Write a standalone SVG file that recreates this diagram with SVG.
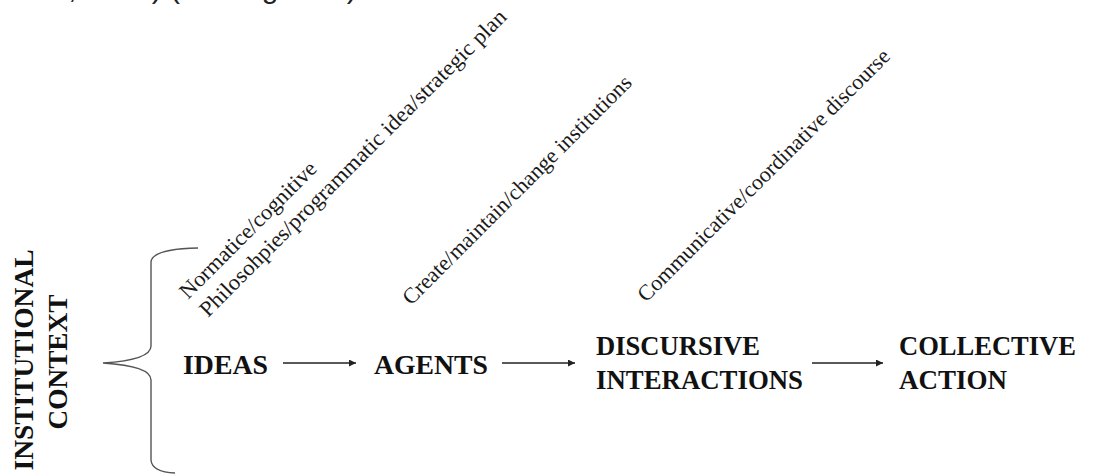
<svg xmlns="http://www.w3.org/2000/svg" width="1104" height="474" viewBox="0 0 1104 474">
<defs>
<style>
.node{font-family:"Liberation Serif","Times New Roman","DejaVu Serif",serif;font-weight:bold;font-size:27px;fill:#111}
.lbl{font-family:"Liberation Serif","Times New Roman","DejaVu Serif",serif;font-size:22px;fill:#1a1a1a}
.top{font-family:"Liberation Sans",Arial,sans-serif;font-size:30px;fill:#222}
.conn{stroke:#222;stroke-width:1.4;fill:none}
.brace{stroke:#555;stroke-width:1.4;fill:none}
</style>
<marker id="ah" viewBox="0 0 10 10" refX="10" refY="5" markerWidth="8" markerHeight="7" markerUnits="userSpaceOnUse" orient="auto">
<path d="M0,0 L10,5 L0,10 Z" fill="#222"/>
</marker>
</defs>
<rect width="1104" height="474" fill="#fff"/>
<text class="top" x="-40" y="-2">Schmidt, 2008) (see Figure 1)</text>

<g id="context">
<text class="node" text-anchor="middle" textLength="221" lengthAdjust="spacingAndGlyphs" transform="translate(33,360) rotate(-90)">INSTITUTIONAL</text>
<text class="node" text-anchor="middle" textLength="135" lengthAdjust="spacingAndGlyphs" transform="translate(67,362) rotate(-90)">CONTEXT</text>
<path class="brace" d="M198,248 Q152,249 151,262 L151,346 Q151,360 103,363 Q151,366 151,380 L151,460 Q152,472 175,473"/>
</g>

<g id="ideas"><text class="node" x="183" y="374" textLength="85" lengthAdjust="spacingAndGlyphs">IDEAS</text></g>
<g id="agents"><text class="node" x="374" y="374" textLength="114" lengthAdjust="spacingAndGlyphs">AGENTS</text></g>
<g id="discursive"><text class="node" x="596" y="355" textLength="164" lengthAdjust="spacingAndGlyphs">DISCURSIVE</text><text class="node" x="596" y="389" textLength="207" lengthAdjust="spacingAndGlyphs">INTERACTIONS</text></g>
<g id="collective"><text class="node" x="899" y="355" textLength="177" lengthAdjust="spacingAndGlyphs">COLLECTIVE</text><text class="node" x="899" y="389" textLength="108" lengthAdjust="spacingAndGlyphs">ACTION</text></g>

<g id="labels">
<text class="lbl" transform="translate(188,300) rotate(-45)" textLength="184" lengthAdjust="spacingAndGlyphs">Normatice/cognitive</text>
<text class="lbl" transform="translate(208,318) rotate(-45)" textLength="424" lengthAdjust="spacingAndGlyphs">Philosohpies/programmatic  idea/strategic  plan</text>
<text class="lbl" transform="translate(411,306) rotate(-45)" textLength="314" lengthAdjust="spacingAndGlyphs">Create/maintain/change institutions</text>
<text class="lbl" transform="translate(646,303) rotate(-45)" textLength="347" lengthAdjust="spacingAndGlyphs">Communicative/coordinative discourse</text>
</g>

<g id="connectors">
<line class="conn" x1="283" y1="363" x2="356" y2="363" marker-end="url(#ah)"/>
<line class="conn" x1="502" y1="363" x2="575" y2="363" marker-end="url(#ah)"/>
<line class="conn" x1="812" y1="363" x2="883" y2="363" marker-end="url(#ah)"/>
</g>
</svg>
